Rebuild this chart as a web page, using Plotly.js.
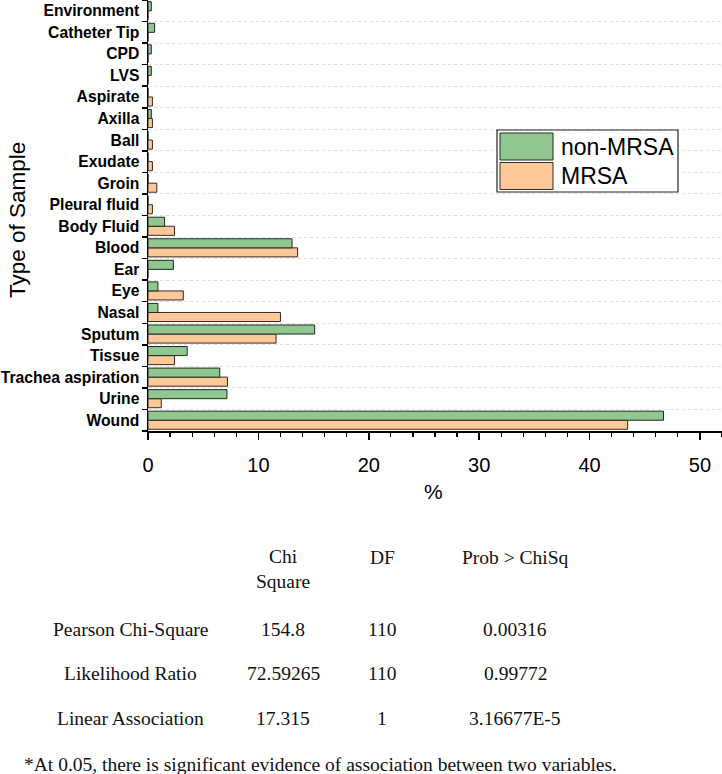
<!DOCTYPE html>
<html>
<head>
<meta charset="utf-8">
<script src="https://cdn.plot.ly/plotly-3.0.1.min.js"></script>
<style>html,body{margin:0;padding:0;background:#fff;}#chart{width:722px;height:774px;}</style>
</head>
<body>
<div id="chart"></div>
<script>
// Categories, bottom to top
const categories = ["Wound","Urine","Trachea aspiration","Tissue","Sputum","Nasal","Eye","Ear","Blood","Body Fluid","Pleural fluid","Groin","Exudate","Ball","Axilla","Aspirate","LVS","CPD","Catheter Tip","Environment"];
const nonMRSA = [46.7, 7.15, 6.5, 3.55, 15.1, 0.9, 0.9, 2.3, 13.05, 1.5, 0, 0, 0, 0, 0.3, 0, 0.3, 0.3, 0.6, 0.3];
const MRSA    = [43.45, 1.2, 7.2, 2.4, 11.6, 12.0, 3.2, 0, 13.55, 2.4, 0.4, 0.8, 0.4, 0.4, 0.4, 0.4, 0, 0, 0, 0];
const seriesNames = ["non-MRSA", "MRSA"];
const xTitle = "%";
const yTitle = "Type of Sample";

// Chi-square table
const tableHeaders = ["Chi<br>Square", "DF", "Prob > ChiSq"];
const tableRowLabels = ["Pearson Chi-Square", "Likelihood Ratio", "Linear Association"];
const chiSquare = ["154.8", "72.59265", "17.315"];
const dfValues = ["110", "110", "1"];
const probValues = ["0.00316", "0.99772", "3.16677E-5"];
const footnote = "*At 0.05, there is significant evidence of association between two variables.";

const W = 722, H = 774;
const M = {l: 148, r: 0, t: 0, b: 343};
const plotW = W - M.l - M.r, plotH = H - M.t - M.b;
const px = x => (x - M.l) / plotW;
const py = y => (H - M.b - y) / plotH;

const green = '#8fc78f', orange = '#fdc897';

const traces = [
  {type: 'bar', orientation: 'h', name: seriesNames[1], y: categories, x: MRSA,
   marker: {color: orange, line: {color: '#3a2a20', width: 1}}, showlegend: false},
  {type: 'bar', orientation: 'h', name: seriesNames[0], y: categories, x: nonMRSA,
   marker: {color: green, line: {color: '#1f2a1f', width: 1}}, showlegend: false}
];

const serif = 'Liberation Serif, Times New Roman, serif';
const sans = 'Liberation Sans, Arial, sans-serif';
const tFont = {family: serif, size: 19.5, color: '#111'};

const annotations = [];
const colX = [283, 382, 515];
const headerY = [569, 557, 557];
tableHeaders.forEach((h, i) => annotations.push({xref: 'paper', yref: 'paper', x: px(colX[i]), y: py(headerY[i]), text: h, showarrow: false, font: tFont, xanchor: 'center', yanchor: 'middle', align: 'center'}));
const rowY = [629, 674, 718];
tableRowLabels.forEach((t, i) => {
  annotations.push({xref: 'paper', yref: 'paper', x: px(130), y: py(rowY[i]), text: t, showarrow: false, font: tFont, xanchor: 'center', yanchor: 'middle'});
  annotations.push({xref: 'paper', yref: 'paper', x: px(colX[0]), y: py(rowY[i]), text: chiSquare[i], showarrow: false, font: tFont, xanchor: 'center', yanchor: 'middle'});
  annotations.push({xref: 'paper', yref: 'paper', x: px(colX[1]), y: py(rowY[i]), text: dfValues[i], showarrow: false, font: tFont, xanchor: 'center', yanchor: 'middle'});
  annotations.push({xref: 'paper', yref: 'paper', x: px(colX[2]), y: py(rowY[i]), text: probValues[i], showarrow: false, font: tFont, xanchor: 'center', yanchor: 'middle'});
});
annotations.push({xref: 'paper', yref: 'paper', x: px(22), y: py(764), text: footnote, showarrow: false, font: tFont, xanchor: 'left', yanchor: 'middle'});
// axis titles
annotations.push({xref: 'paper', yref: 'paper', x: px(433), y: py(491), text: xTitle, showarrow: false, font: {family: sans, size: 21, color: '#000'}, xanchor: 'center', yanchor: 'middle'});
annotations.push({xref: 'paper', yref: 'paper', x: px(18), y: py(220), text: yTitle, textangle: -90, showarrow: false, font: {family: sans, size: 22.5, color: '#000'}, xanchor: 'center', yanchor: 'middle'});
// custom legend text
annotations.push({xref: 'paper', yref: 'paper', x: px(559), y: py(147), text: seriesNames[0], showarrow: false, font: {family: sans, size: 23, color: '#000'}, xanchor: 'left', yanchor: 'middle'});
annotations.push({xref: 'paper', yref: 'paper', x: px(559), y: py(176), text: seriesNames[1], showarrow: false, font: {family: sans, size: 23, color: '#000'}, xanchor: 'left', yanchor: 'middle'});

const shapes = [
  {type: 'rect', xref: 'paper', yref: 'paper', x0: px(497), x1: px(678), y0: py(130), y1: py(192), line: {color: '#222', width: 1.2}, fillcolor: '#fff', layer: 'above'},
  {type: 'rect', xref: 'paper', yref: 'paper', x0: px(500), x1: px(553), y0: py(133), y1: py(160), line: {color: '#1f2a1f', width: 1}, fillcolor: green, layer: 'above'},
  {type: 'rect', xref: 'paper', yref: 'paper', x0: px(500), x1: px(553), y0: py(162.5), y1: py(189.5), line: {color: '#3a2a20', width: 1}, fillcolor: orange, layer: 'above'}
];

const layout = {
  width: W, height: H,
  margin: M,
  paper_bgcolor: '#fff', plot_bgcolor: '#fff',
  barmode: 'group', bargap: 0.16, bargroupgap: 0,
  showlegend: false,
  font: {family: sans, color: '#000'},
  xaxis: {
    range: [0, 52], showgrid: false, zeroline: false,
    showline: true, linecolor: '#000', linewidth: 1.5,
    ticks: 'outside', ticklen: 7, tickwidth: 1.5, tickcolor: '#000',
    dtick: 10, tick0: 0, ticklabelstandoff: 8,
    minor: {dtick: 2, ticks: 'outside', ticklen: 4, tickwidth: 1.2, tickcolor: '#000', showgrid: false},
    tickfont: {family: sans, size: 20, color: '#000'},
    fixedrange: true
  },
  yaxis: {
    type: 'category', categoryorder: 'array', categoryarray: categories,
    showline: true, linecolor: '#000', linewidth: 1.5,
    ticks: 'outside', ticklen: 5, tickwidth: 1.5, tickcolor: '#000',
    tickson: 'boundaries', ticklabelstandoff: 4,
    showgrid: true, gridcolor: '#dcdcdc', griddash: 'dot', gridwidth: 1,
    tickfont: {family: sans, size: 15.7, color: '#000', weight: 'bold'},
    automargin: false, fixedrange: true
  },
  annotations: annotations,
  shapes: shapes
};

Plotly.newPlot('chart', traces, layout, {displayModeBar: false, staticPlot: true});
</script>
</body>
</html>
